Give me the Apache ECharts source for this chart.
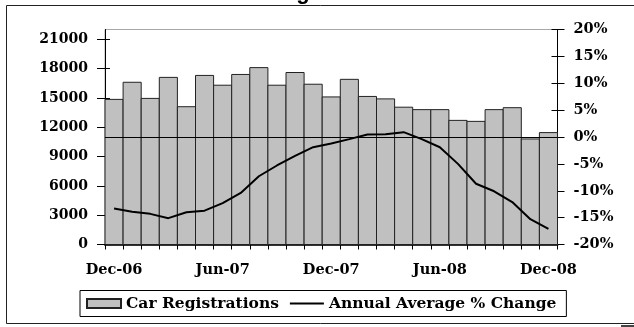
<!DOCTYPE html>
<html>
<head>
<meta charset="utf-8">
<style>
  html, body { margin: 0; padding: 0; background: #fff; }
  #chart { width: 634px; height: 327px; }
</style>
<script src="https://cdn.jsdelivr.net/npm/echarts@6/dist/echarts.min.js"></script>
</head>
<body>
<div id="chart"></div>
<script>
// Monthly categories, December 2006 to December 2008
const months = ['Dec-06', 'Jan-07', 'Feb-07', 'Mar-07', 'Apr-07', 'May-07', 'Jun-07', 'Jul-07',
  'Aug-07', 'Sep-07', 'Oct-07', 'Nov-07', 'Dec-07', 'Jan-08', 'Feb-08', 'Mar-08', 'Apr-08',
  'May-08', 'Jun-08', 'Jul-08', 'Aug-08', 'Sep-08', 'Oct-08', 'Nov-08', 'Dec-08'];

// Monthly car registrations (left axis)
const registrations = [14850, 16600, 14950, 17100, 14100, 17300, 16300, 17400, 18100, 16300,
  17600, 16400, 15100, 16900, 15150, 14900, 14050, 13800, 13800, 12700, 12600, 13800, 14000,
  10800, 11450];

// Annual average % change (right axis)
const annualChange = [-13.3, -13.9, -14.3, -15.1, -14.0, -13.7, -12.3, -10.4, -7.3, -5.3, -3.5,
  -1.9, -1.2, -0.4, 0.45, 0.5, 0.9, -0.4, -1.9, -5.0, -8.7, -10.1, -12.1, -15.3, -17.1];

// Tick values
const leftTicks = [0, 3000, 6000, 9000, 12000, 15000, 18000, 21000];
const rightTicks = [-20, -15, -10, -5, 0, 5, 10, 15, 20];

const seriesNames = ['Car Registrations', 'Annual Average % Change'];

const serifBold = { fontFamily: 'DejaVu Serif', fontWeight: 'bold', color: '#000' };
const barFill = '#c0c0c0';
const barEdge = '#222';

const chart = echarts.init(document.getElementById('chart'), null, { renderer: 'canvas' });

const leftRange = { min: 0, max: 22000 };
const rightRange = { min: -20, max: 20, interval: 5 };

// Full-width columns sharing their edges, placed by the category / value scales
function renderColumn(params, api) {
  const idx = api.value(0);
  const base = api.coord([idx, 0]);
  const top = api.coord([idx, api.value(1)]);
  const band = api.size([1, 0])[0];
  return {
    type: 'rect',
    shape: { x: base[0] - band / 2, y: top[1], width: band, height: base[1] - top[1] },
    style: { fill: barFill, stroke: barEdge, lineWidth: 1 }
  };
}

chart.setOption({
  animation: false,
  backgroundColor: '#fff',
  title: {
    text: 'Car Registrations',
    left: 'center',
    top: -19,
    padding: 0,
    textStyle: { fontFamily: 'Liberation Sans', fontWeight: 'bold', fontSize: 22, lineHeight: 24, color: '#000' }
  },
  graphic: [
    {
      type: 'rect', silent: true, z: -1,
      shape: { x: 6.5, y: 5.5, width: 640, height: 318 },
      style: { fill: 'none', stroke: '#222', lineWidth: 1 }
    },
    {
      type: 'rect', silent: true,
      shape: { x: 621, y: 325, width: 13, height: 2 },
      style: { fill: '#444' }
    }
  ],
  grid: {
    left: 105, right: 76.5, top: 29.5, bottom: 82.5,
    show: true, borderColor: '#a8a8a8', borderWidth: 1, backgroundColor: 'transparent'
  },
  legend: {
    data: [
      { name: seriesNames[0], icon: 'rect' },
      { name: seriesNames[1], icon: 'path://M0,0 L35,0 L35,2 L0,2 Z' }
    ],
    left: 80,
    top: 290.5,
    padding: [5, 10, 5, 6],
    itemGap: 11,
    itemWidth: 34,
    itemHeight: 9,
    borderColor: '#000',
    borderWidth: 1,
    backgroundColor: '#fff',
    textStyle: Object.assign({ fontSize: 15.5 }, serifBold)
  },
  xAxis: {
    type: 'category',
    data: months,
    boundaryGap: true,
    axisLine: { lineStyle: { color: '#333', width: 2 } },
    axisTick: { show: true, interval: 0, length: 5, lineStyle: { color: '#000', width: 1 } },
    axisLabel: Object.assign({ interval: 5, margin: 18, fontSize: 14.5 }, serifBold),
    splitLine: { show: false }
  },
  yAxis: [
    Object.assign({
      type: 'value', position: 'left',
      axisLine: { show: true, lineStyle: { color: '#000', width: 1 } },
      axisTick: { show: true, length: 8, customValues: leftTicks, lineStyle: { color: '#000' } },
      axisLabel: Object.assign({ margin: 17, fontSize: 14, customValues: leftTicks, formatter: v => String(v) }, serifBold),
      splitLine: { show: false }
    }, leftRange),
    Object.assign({
      type: 'value', position: 'right',
      axisLine: { show: true, lineStyle: { color: '#000', width: 1 } },
      axisTick: { show: true, length: 7, customValues: rightTicks, lineStyle: { color: '#000' } },
      axisLabel: Object.assign({ margin: 16, fontSize: 14.5, customValues: rightTicks, formatter: v => v + '%' }, serifBold),
      splitLine: { show: false }
    }, rightRange),
    // inner halves of the crossing tick marks
    Object.assign({
      type: 'value', position: 'left',
      axisLine: { show: false },
      axisTick: { show: true, inside: true, length: 5, customValues: leftTicks, lineStyle: { color: '#000' } },
      axisLabel: { show: false },
      splitLine: { show: false }
    }, leftRange),
    Object.assign({
      type: 'value', position: 'right',
      axisLine: { show: false },
      axisTick: { show: true, inside: true, length: 6, customValues: rightTicks, lineStyle: { color: '#000' } },
      axisLabel: { show: false },
      splitLine: { show: false }
    }, rightRange)
  ],
  series: [
    {
      name: seriesNames[0],
      type: 'custom',
      yAxisIndex: 0,
      renderItem: renderColumn,
      encode: { x: 0, y: 1 },
      data: registrations.map((v, i) => [i, v]),
      itemStyle: { color: barFill, borderColor: barEdge, borderWidth: 1 }
    },
    {
      name: seriesNames[1],
      type: 'line',
      yAxisIndex: 1,
      data: annualChange,
      symbol: 'none',
      showSymbol: false,
      lineStyle: { color: '#000', width: 2 },
      itemStyle: { color: '#000' },
      z: 5,
      markLine: {
        silent: true,
        symbol: ['none', 'none'],
        label: { show: false },
        lineStyle: { color: '#000', width: 1, type: 'solid' },
        data: [{ yAxis: 0 }]
      }
    }
  ]
});
</script>
</body>
</html>
